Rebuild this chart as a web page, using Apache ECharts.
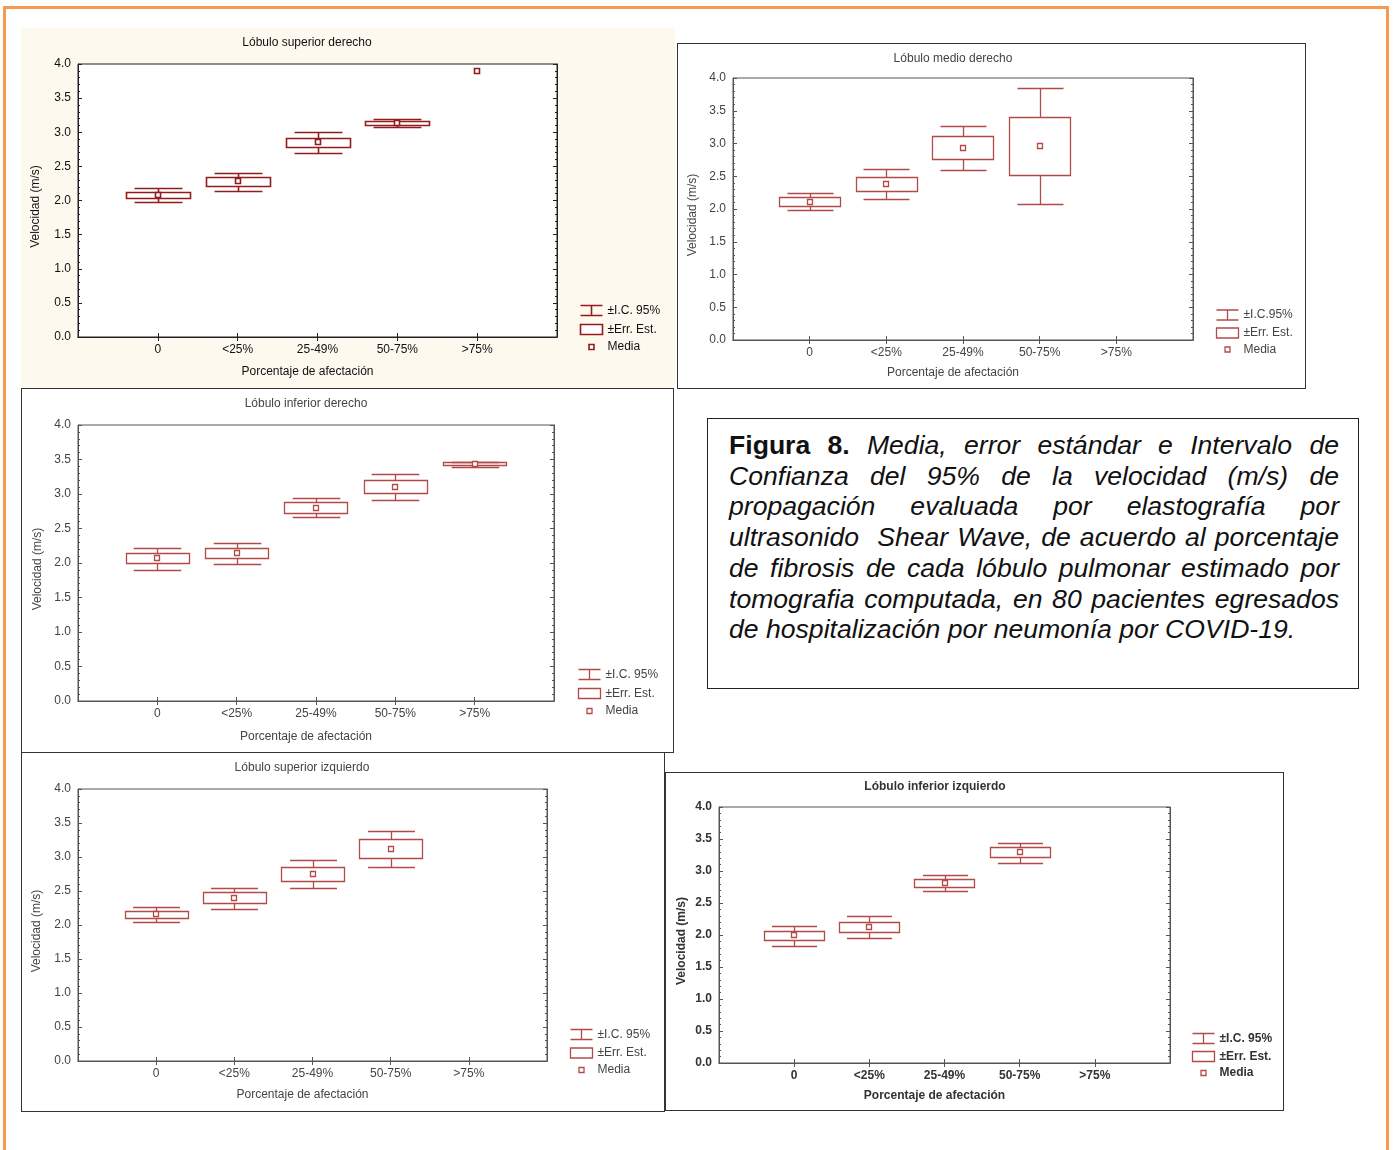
<!DOCTYPE html>
<html>
<head>
<meta charset="utf-8">
<script src="https://cdn.jsdelivr.net/npm/echarts@6/dist/echarts.min.js"></script>
<style>
html,body{margin:0;padding:0;background:#fff;}
body{width:1393px;height:1150px;position:relative;overflow:hidden;font-family:"Liberation Sans",Arial,sans-serif;}
.frame{position:absolute;left:3px;top:6px;width:1380px;height:1200px;border:3px solid #f79a4f;box-sizing:content-box;}
.panel{position:absolute;box-sizing:border-box;}
.bordered{border:1px solid #333;background:#fff;}
#chart{position:absolute;left:0;top:0;width:1393px;height:1150px;z-index:2;}
#caption{position:absolute;left:707px;top:418px;width:652px;height:271px;box-sizing:border-box;border:1px solid #222;z-index:3;background:#fff;}
#caption .txt{position:absolute;left:21px;top:11px;width:610px;font-family:"Liberation Sans",Arial,sans-serif;font-size:26.6px;line-height:30.7px;color:#111;font-style:italic;}
#caption .ln{white-space:nowrap;text-align:justify;text-align-last:justify;}
#caption .ln.last{text-align:left;text-align-last:left;}
#caption b{font-style:normal;font-weight:bold;}
</style>
</head>
<body>
<div class="frame"></div>
<div class="panel" style="left:21px;top:28px;width:654px;height:360px;background:#fdf9ee;"></div>
<div class="panel bordered" style="left:677px;top:43px;width:629px;height:346px;"></div>
<div class="panel bordered" style="left:21px;top:388px;width:653px;height:365px;"></div>
<div class="panel bordered" style="left:21px;top:752px;width:644px;height:360px;"></div>
<div class="panel bordered" style="left:665px;top:772px;width:619px;height:339px;"></div>
<div id="caption"><div class="txt">
<div class="ln"><b>Figura 8.</b> Media, error estándar e Intervalo de</div>
<div class="ln">Confianza del 95% de la velocidad (m/s) de</div>
<div class="ln">propagación evaluada por elastografía por</div>
<div class="ln">ultrasonido&nbsp; Shear Wave, de acuerdo al porcentaje</div>
<div class="ln">de fibrosis de cada lóbulo pulmonar estimado por</div>
<div class="ln">tomografia computada, en 80 pacientes egresados</div>
<div class="ln last">de hospitalización por neumonía por COVID-19.</div>
</div></div>
<div id="chart"></div>
<script>
// ---------- DATA ----------
const categorias = ['0', '<25%', '25-49%', '50-75%', '>75%'];
const yTicks = [0, 0.5, 1.0, 1.5, 2.0, 2.5, 3.0, 3.5, 4.0];
const nombresSerie = ['±I.C. 95%', '±Err. Est.', 'Media'];
const tituloX = 'Porcentaje de afectación';
const tituloY = 'Velocidad (m/s)';

// Lóbulo superior derecho
const lsdMedia = [2.08, 2.28, 2.86, 3.14, 3.90];
const lsdErr = [[2.03, 2.13], [2.21, 2.34], [2.79, 2.92], [3.11, 3.17], null];
const lsdIC  = [[1.98, 2.18], [2.14, 2.41], [2.70, 3.00], [3.08, 3.19], null];

// Lóbulo medio derecho
const lmdMedia = [2.11, 2.38, 2.93, 2.96, null];
const lmdErr = [[2.05, 2.18], [2.28, 2.49], [2.77, 3.11], [2.52, 3.41], null];
const lmdIC  = [[1.98, 2.24], [2.15, 2.61], [2.59, 3.27], [2.08, 3.84], null];

// Lóbulo inferior derecho
const lidMedia = [2.07, 2.15, 2.80, 3.10, 3.44];
const lidErr = [[2.00, 2.15], [2.07, 2.22], [2.73, 2.88], [3.01, 3.20], [3.415, 3.46]];
const lidIC  = [[1.90, 2.22], [1.985, 2.29], [2.665, 2.94], [2.92, 3.29], [3.39, 3.47]];

// Lóbulo superior izquierdo
const lsiMedia = [2.155, 2.40, 2.75, 3.125, null];
const lsiErr = [[2.10, 2.205], [2.32, 2.48], [2.65, 2.86], [2.99, 3.26], null];
const lsiIC  = [[2.04, 2.27], [2.23, 2.55], [2.54, 2.96], [2.86, 3.38], null];

// Lóbulo inferior izquierdo
const liiMedia = [1.995, 2.125, 2.815, 3.29, null];
const liiErr = [[1.92, 2.07], [2.04, 2.21], [2.75, 2.88], [3.22, 3.37], null];
const liiIC  = [[1.834, 2.14], [1.95, 2.30], [2.69, 2.94], [3.13, 3.44], null];

// ---------- LAYOUT / STYLE ----------
const FONT = '"Liberation Sans", Arial, sans-serif';
const paneles = [
  { titulo: 'Lóbulo superior derecho', media: lsdMedia, err: lsdErr, ic: lsdIC,
    grid: { left: 78, top: 64, width: 479, height: 273 }, tpos: [307, 43],
    legend: { left: 578, top: 303, gap: 5.5 }, color: '#921c1c', frame: '#222', text: '#111', bold: false, lw: 1.6,
    xGap: 29, yGap: 36, icLabel: '±I.C. 95%' },
  { titulo: 'Lóbulo medio derecho', media: lmdMedia, err: lmdErr, ic: lmdIC,
    grid: { left: 733, top: 78, width: 460, height: 262 }, tpos: [953, 59],
    legend: { left: 1214, top: 307.5, gap: 4.5 }, color: '#b34a4a', frame: '#555', text: '#444', bold: false, lw: 1.3,
    xGap: 27, yGap: 34, icLabel: '±I.C.95%' },
  { titulo: 'Lóbulo inferior derecho', media: lidMedia, err: lidErr, ic: lidIC,
    grid: { left: 78, top: 425, width: 476, height: 276 }, tpos: [306, 404],
    legend: { left: 576, top: 667, gap: 5.5 }, color: '#b34a4a', frame: '#555', text: '#444', bold: false, lw: 1.3,
    xGap: 30, yGap: 34, icLabel: '±I.C. 95%' },
  { titulo: 'Lóbulo superior izquierdo', media: lsiMedia, err: lsiErr, ic: lsiIC,
    grid: { left: 78, top: 789, width: 469, height: 272 }, tpos: [302, 768],
    legend: { left: 568, top: 1027, gap: 5 }, color: '#b34a4a', frame: '#555', text: '#444', bold: false, lw: 1.3,
    xGap: 28, yGap: 35, icLabel: '±I.C. 95%' },
  { titulo: 'Lóbulo inferior izquierdo', media: liiMedia, err: liiErr, ic: liiIC,
    grid: { left: 719, top: 807, width: 451, height: 256 }, tpos: [935, 787],
    legend: { left: 1190, top: 1031, gap: 4.5 }, color: '#b34a4a', frame: '#555', text: '#333', bold: true, lw: 1.3,
    xGap: 27, yGap: 31, icLabel: '±I.C. 95%' }
];

const ejeCat = [''].concat(categorias).concat(['']);

function crisp(v) { return Math.round(v) + 0.5; }

const option = {
  animation: false,
  backgroundColor: 'transparent',
  grid: [], xAxis: [], yAxis: [], series: [], legend: [], graphic: []
};

paneles.forEach(function (p, k) {
  const fw = p.bold ? 'bold' : 'normal';
  option.grid.push(Object.assign({ show: true, borderColor: p.frame, borderWidth: 1, backgroundColor: '#fff' }, p.grid));

  // bottom category axis
  option.xAxis.push({
    type: 'category', gridIndex: k, data: ejeCat, boundaryGap: false, position: 'bottom',
    axisLine: { show: true, lineStyle: { color: p.frame, width: 1 } },
    axisTick: { show: true, inside: true, length: 4, interval: function (i) { return i > 0 && i < ejeCat.length - 1; }, lineStyle: { color: p.frame } },
    axisLabel: { interval: 0, margin: 7, color: p.text, fontSize: 12, fontFamily: FONT, fontWeight: fw },
    splitLine: { show: false },
    name: tituloX, nameLocation: 'middle', nameGap: p.xGap,
    nameTextStyle: { color: p.text, fontSize: 12, fontFamily: FONT, fontWeight: fw, padding: [0, 20, 0, 0] }
  });
  // top tick-only axis
  option.xAxis.push({
    type: 'category', gridIndex: k, data: ejeCat, boundaryGap: false, position: 'top',
    axisLine: { show: true, lineStyle: { color: p.frame, width: 1 } },
    axisTick: { show: true, inside: true, length: 4, interval: function (i) { return i > 0 && i < ejeCat.length - 1; }, lineStyle: { color: p.frame } },
    axisLabel: { show: false }, splitLine: { show: false }
  });
  // left value axis
  option.yAxis.push({
    type: 'value', gridIndex: k, min: yTicks[0], max: yTicks[yTicks.length - 1], interval: yTicks[1] - yTicks[0], position: 'left',
    axisLine: { show: true, lineStyle: { color: p.frame, width: 1 } },
    axisTick: { show: true, inside: true, length: 4, lineStyle: { color: p.frame } },
    minorTick: { show: true, splitNumber: 5, length: 2, lineStyle: { color: p.frame } },
    axisLabel: { margin: 7, color: p.text, fontSize: 12, fontFamily: FONT, fontWeight: fw, formatter: function (v) { return v.toFixed(1); } },
    splitLine: { show: false },
    name: tituloY, nameLocation: 'middle', nameRotate: 90, nameGap: p.yGap,
    nameTextStyle: { color: p.text, fontSize: 12, fontFamily: FONT, fontWeight: fw, padding: [0, 12, 0, 0] }
  });
  // right tick-only axis
  option.yAxis.push({
    type: 'value', gridIndex: k, min: yTicks[0], max: yTicks[yTicks.length - 1], interval: yTicks[1] - yTicks[0], position: 'right',
    axisLine: { show: true, lineStyle: { color: p.frame, width: 1 } },
    axisTick: { show: true, inside: true, length: 4, lineStyle: { color: p.frame } },
    minorTick: { show: true, splitNumber: 5, length: 2, lineStyle: { color: p.frame } },
    axisLabel: { show: false }, splitLine: { show: false }
  });

  const c = p.color, lw = p.lw;
  const icData = [], errData = [], mediaData = [];
  categorias.forEach(function (cat, i) {
    if (p.ic[i]) icData.push([i + 1, p.ic[i][0], p.ic[i][1], p.err[i] ? p.err[i][0] : p.media[i], p.err[i] ? p.err[i][1] : p.media[i]]);
    if (p.err[i]) errData.push([i + 1, p.err[i][0], p.err[i][1]]);
    if (p.media[i] != null) mediaData.push([i + 1, p.media[i]]);
  });

  option.series.push({
    type: 'custom', name: nombresSerie[0], xAxisIndex: 2 * k, yAxisIndex: 2 * k, data: icData,
    itemStyle: { color: c },
    encode: { x: 0, y: [1, 2] },
    renderItem: function (params, api) {
      const x = api.value(0);
      const pLo = api.coord([x, api.value(1)]);
      const pHi = api.coord([x, api.value(2)]);
      const pEL = api.coord([x, api.value(3)]);
      const pEH = api.coord([x, api.value(4)]);
      const step = api.size([1, 0])[0];
      const half = step * 0.3;
      const cx = crisp(pHi[0]);
      const st = { stroke: c, lineWidth: lw, fill: null };
      return { type: 'group', children: [
        { type: 'line', shape: { x1: cx - half, y1: crisp(pHi[1]), x2: cx + half, y2: crisp(pHi[1]) }, style: st },
        { type: 'line', shape: { x1: cx - half, y1: crisp(pLo[1]), x2: cx + half, y2: crisp(pLo[1]) }, style: st },
        { type: 'line', shape: { x1: cx, y1: crisp(pHi[1]), x2: cx, y2: crisp(pEH[1]) }, style: st },
        { type: 'line', shape: { x1: cx, y1: crisp(pLo[1]), x2: cx, y2: crisp(pEL[1]) }, style: st }
      ] };
    }
  });
  option.series.push({
    type: 'custom', name: nombresSerie[1], xAxisIndex: 2 * k, yAxisIndex: 2 * k, data: errData,
    itemStyle: { color: c },
    encode: { x: 0, y: [1, 2] },
    renderItem: function (params, api) {
      const x = api.value(0);
      const pLo = api.coord([x, api.value(1)]);
      const pHi = api.coord([x, api.value(2)]);
      const step = api.size([1, 0])[0];
      const w = step * 0.8;
      const x0 = crisp(pHi[0] - w / 2);
      const y0 = crisp(pHi[1]);
      const y1 = crisp(pLo[1]);
      return { type: 'rect', shape: { x: x0, y: y0, width: Math.round(w), height: Math.max(1, y1 - y0) },
        style: { stroke: c, lineWidth: lw, fill: 'rgba(255,255,255,0)' } };
    }
  });
  option.series.push({
    type: 'custom', name: nombresSerie[2], xAxisIndex: 2 * k, yAxisIndex: 2 * k, data: mediaData,
    itemStyle: { color: c },
    encode: { x: 0, y: 1 },
    z: 5,
    renderItem: function (params, api) {
      const pt = api.coord([api.value(0), api.value(1)]);
      return { type: 'rect', shape: { x: Math.round(pt[0]) - 2.5, y: Math.round(pt[1]) - 2.5, width: 5, height: 5 },
        style: { stroke: c, lineWidth: lw, fill: '#fff' } };
    }
  });

  const labelMap = {};
  labelMap[nombresSerie[0]] = p.icLabel;
  option.legend.push({
    orient: 'vertical', left: p.legend.left, top: p.legend.top, itemWidth: 22, itemHeight: 10, itemGap: p.legend.gap,
    selectedMode: false, padding: 0,
    formatter: function (n) { return labelMap[n] || n; },
    textStyle: { fontSize: 12, color: p.text, fontFamily: FONT, fontWeight: fw },
    data: [
      { name: nombresSerie[0], icon: 'path://M0,0H22M11,0V10M0,10H22', itemStyle: { color: 'none', borderColor: c, borderWidth: lw } },
      { name: nombresSerie[1], icon: 'rect', itemStyle: { color: '#fff', borderColor: c, borderWidth: lw } },
      { name: nombresSerie[2], icon: 'path://M0,0M22,10M8.5,2.5H13.5V7.5H8.5Z', itemStyle: { color: '#fff', borderColor: c, borderWidth: lw } }
    ]
  });

  option.graphic.push({
    type: 'text', x: p.tpos[0], y: p.tpos[1], silent: true,
    style: { text: p.titulo, fill: p.text, font: fw + ' 12px ' + FONT, textAlign: 'center', textVerticalAlign: 'middle', align: 'center', verticalAlign: 'middle' }
  });
});

const chart = echarts.init(document.getElementById('chart'), null, { renderer: 'canvas' });
chart.setOption(option);
</script>
</body>
</html>
